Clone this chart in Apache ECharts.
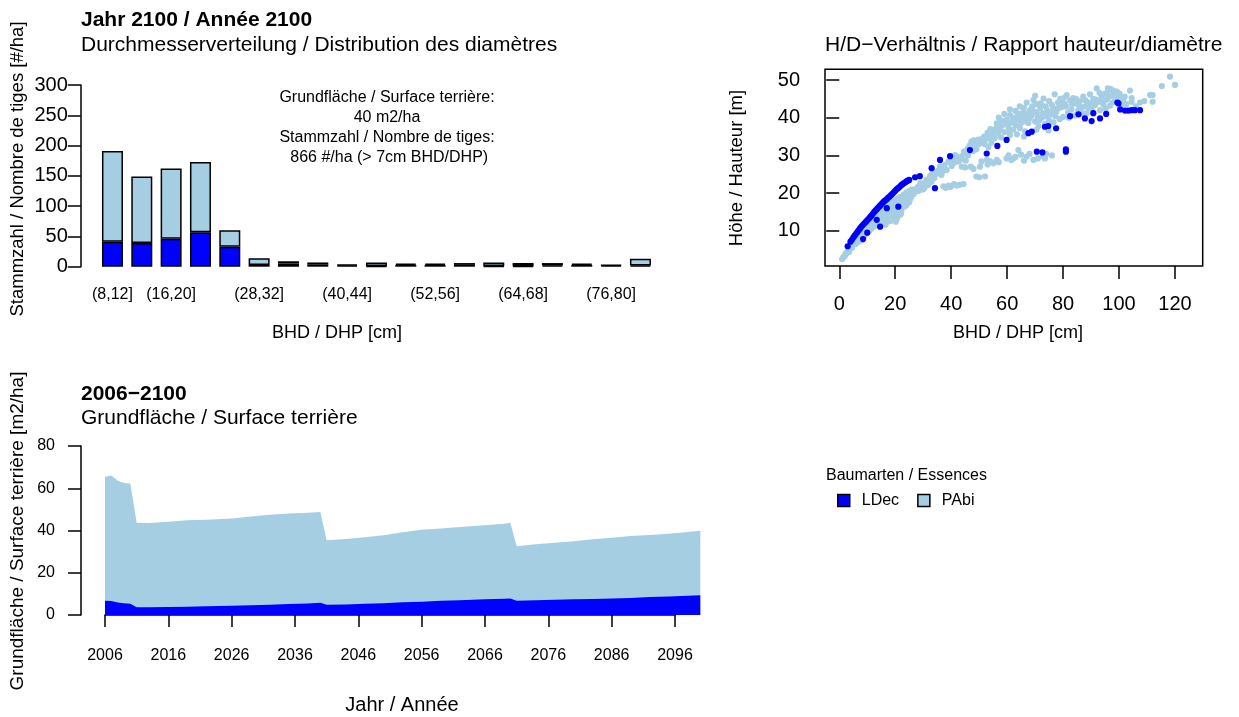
<!DOCTYPE html>
<html>
<head>
<meta charset="utf-8">
<script src="https://cdn.jsdelivr.net/npm/echarts@6/dist/echarts.min.js"></script>
<style>html,body{margin:0;padding:0;background:#fff}#c{width:1239px;height:717px}</style>
</head>
<body>
<div id="c"></div>
<script>
// ---------- data ----------
const dbhClasses = ['(8,12]','(12,16]','(16,20]','(20,24]','(24,28]','(28,32]','(32,36]','(36,40]','(40,44]','(44,48]','(48,52]','(52,56]','(56,60]','(60,64]','(64,68]','(68,72]','(72,76]','(76,80]','(80,84]'];
const ldecCounts = [41, 39, 46, 57, 33, 3, 5, 4, 2, 1, 3, 3, 3, 1, 1, 2, 3, 2, 2];
const pabiCounts = [150, 110, 116, 116, 27, 11, 4, 3, 2, 6, 2, 2, 3, 6, 5, 4, 2, 1, 11];
const shownClassIdx = [0, 2, 5, 8, 11, 14, 17];
const countTicks = [0, 50, 100, 150, 200, 250, 300];

const pabiHD = [
[1,2.5],[1.3,2.8],[1.6,3.1],[2,3.3],[2.2,3.8],[2.5,4],[2.8,4.2],[3,4.6],[3.3,4.8],[3.6,5.2],[4,5.4],[4.2,5.9],[4.5,6],[4.8,6.4],[5,6.8],[5.3,6.6],[5.6,7.2],[6,7.4],[6.2,6.9],[6.5,8],[6.8,7.6],[7,8.4],[7.2,7.2],[7.5,8.6],[7.8,8],[8,9.2],[8.2,7.6],[8.5,9.4],[8.8,8.6],[9,10],[9.2,9],[9.5,10.6],[9.8,9.6],[10,11.2],[10.2,10],[10.5,11.4],[10.8,10.4],[11,12],[11.2,10.8],[11.5,12.4],[11.8,11.2],[12,13],[12.2,11.6],[12.5,13.4],[12.8,12.2],[13,14],[13.2,12.6],[13.5,14.2],[13.8,13],[14,14.8],[14.2,13.4],[14.5,15],[14.8,12.2],[15,15.6],[15.2,14],[15.5,16],[15.8,13.2],[16,16.4],[16.2,14.6],[16.5,11.6],[16.8,15.4],[17,17],[17.2,13.8],[17.5,16.2],[17.8,14.8],[18,17.4],[18.2,12.6],[18.5,16.6],[18.8,15],[19,17.8],[19.2,13.4],[19.5,16.8],[19.8,14.4],[20,18.2],[20.2,12.4],[20.5,17],[20.8,15.6],[21,18.6],[21.2,14],[21.5,17.4],[21.8,16.2],[22,19],[22.2,15.2],[22.5,18],[22.8,17],[23,19.6],[23.3,16.4],[23.6,18.6],[24,20.2],[24.3,17.6],[24.6,19.2],[25,20.6],[25.3,18.4],[25.6,19.8],[26,21],
[3.5,4.4],[4.6,5.5],[5.8,6.5],[6.6,7],[7.6,7.6],[8.6,8.2],[9.6,9.2],[10.6,9.8],[11.6,10.6],[12.6,11.2],[13.6,12],[14.6,13],[15.6,14.2],[16.6,13.8],[17.6,12.8],[18.6,14.2],[19.6,15.8],[20.6,13.2],[21.6,15],[22.6,16.6],[23.6,17.2],[24.6,18],[25.6,18.8],[26.4,19.6],[15,11.8],[17,12.2],[19,12.8],[20,16],[22,14.4],[23,18],[24,16.8],[25,17.6],[26,20.4],
[27,20.2],[27.6,21],[28,21.6],[28.4,20.6],[28.8,22],[29,22.6],[29.5,21],[30,22.6],[30,21],[30.5,21.4],[31,22.8],[31.2,23.6],[31.8,22.2],[32,23.6],[32.5,24.6],[33,23],[33,25],[33.6,24.4],[34,24],[34.2,25.6],[34.8,25.2],[35,25.6],[35.5,26],[36,27],[36.5,24.8],[36.8,25.6],[37.2,21.8],[37.6,27.4],[37.8,26.4],[38,21.4],[38.4,26.1],[39,28.3],[39,22],[39.6,21.6],[40,21.8],[40.2,27.2],[40.8,29.2],[41,22.4],[41,28],[41.4,30.1],[42,22],[42,29.6],[42.6,28.4],[43,22.2],[43.2,28.8],[43.8,27],[43.8,29.8],[44.4,22.4],[44.6,31],[45,26.8],[45.2,28.6],[45.5,30.6],[46,31.8],[46,30],[46.6,32.6],[47,32],[47,27],[47.2,33.6],[47.8,31.2],[48,34],[48,26.4],[48.4,33],[49,32.8],[49,31.6],[49,24.4],[49.6,34.2],[50,24.2],[50,33],[50.3,27],[50.8,28.4],[51,34.4],[51.2,33.6],[51.8,35],[52,33],[52.1,24.4],[52.7,28.8],[52.7,34.5],[53,36],[53,27.6],[53.3,32.2],[53.8,35.6],[54,34.6],[54,28.4],[54.4,33.4],[55,36.4],[55,35],[55.1,27.9],[55.6,34.6],[56,37.2],[56.3,28.8],[56.3,38.5],[56.8,36],[57,28.2],
[57.4,37],[57.8,34.8],[58,37.8],[58.4,38.2],[59,36.2],[59.8,29.2],[59.8,39.4],[60.4,37.6],[60.8,36.4],[61,40.7],[61,35.4],[61.6,38.8],[62.2,29.2],[62.2,36.8],[62.6,38.4],[62.8,40],[63.4,38],[63.8,39.6],[64,31.4],[64,41],[64.6,37.2],[65.2,39.4],[65.4,40.4],[65.8,41.6],[66.4,36.4],[66.8,39],[67,29.7],[67,40.2],[67.6,38.6],[67.8,41.2],[68.2,42],[68.8,40.6],[69.2,41.8],[69.4,28.8],[69.4,44.7],[70,39],[70.4,43.6],[70.6,41.4],[71.2,37.8],[71.6,39.4],[71.8,42.6],[72.4,40],[72.8,41.2],[72.9,29.7],[73,45.1],[73.6,38.4],[73.8,43],[74.2,42],[74.8,36.6],[75,39.2],[75.4,40.8],[76,43.4],[76.2,41.8],[76.6,38.8],[77,46.2],[77.2,40.4],[77.6,41.6],[78.2,44],[78.4,42.6],[78.8,39.6],[79.4,42.8],[79.6,44],[80,40.2],
[58,39.2],[60,38.4],[62,39.6],[63,41.8],[65,38.6],[66,42.6],[68,39.8],[69,43],[71,40.2],[72,43.8],[74,40.4],[75,44.4],[77,42.4],[79,45],[63.5,35.6],[66,35],[70.5,36.8],[54,37],[57,40],[59,41],[61,42.2],[64.5,43],[67,44],[70,45.8],
[60.5,30],[61.5,28.8],[63,29.6],[65,30.2],[66,28.6],[68,30.4],[71,29.2],[73.5,29.2],[74,30.4],[76,30],
[80.2,45.2],[80.6,43.6],[81,43],[81.3,46],[81.8,41.4],[82,40],[82.4,44.6],[83,42.2],[83.2,43.6],[83.6,45.2],[84.2,40.6],[84.6,45],[84.8,43.8],[85.4,41.8],[85.8,43],[86,44.4],[86.6,42.6],[87,41],[87.2,45.6],[87.8,43],[88,44.6],[88.4,41.2],[89,44],[89.2,42.6],[89.6,46.2],[90.2,42.4],[90.4,43.8],[90.8,45],[91.4,43.4],[91.8,44.8],[92,47.8],[92.6,44.2],[93,46.6],[93.2,42],[93.8,45.6],[94,44.6],[94.4,43.6],[95,46.4],[95.2,42.4],[95.6,44.8],[96,47.8],[96.2,47.2],[96.4,45.6],[96.8,43.2],[97,47.6],[97.4,45.8],[97.6,44],[98,47.2],[98.5,46.5],[98.6,44.4],[98.8,45.8],[99.2,46.9],[100,45.5],[100.2,46.4],[100.6,43.2],[101,44],[101.5,44.8],[102,45.6],[102.5,43.6],[103.9,47.2],[104.5,44.2],[104.5,45.2],[106,43],[107.5,44],[109,44.4],[111.1,46],[112,46],[112,44.2],[115.3,48.4],[118.2,50.9],[120,48.7]
];
const ldecHD = [
[3,5.9],[4,7.1],[4.5,7.6],[5,8.2],[5.5,8.7],[6,9.2],[6.5,9.7],[7,10.2],[7.5,10.7],[8,11.2],[8.5,11.6],[9,12],[9.5,12.4],[10,12.8],[10.5,13.2],[11,13.6],[11.5,14],[12,14.5],[12.5,15],[13,15.4],[13.5,15.8],[14,16.2],[14.5,16.6],[15,17],[15.5,17.4],[16,17.8],[16.5,18.1],[17,18.4],[17.5,18.8],[18,19.1],[18.5,19.5],[19,19.8],[19.5,20.2],[20,20.6],[20.5,21],[21,21.3],[21.5,21.6],[22,22],[22.5,22.3],[23,22.6],[23.5,22.8],[24,23.1],[24.5,23.3],[25,23.5],
[8.5,7.8],[13.4,12.9],[14.6,11.1],[21.1,16.4],[10,9.5],[17,16],
[27.1,24.2],[28.8,24.5],[33,26.6],[34.2,21.3],[36,28.8],[39.6,29.8],[46.7,31.4],[52.7,30.5],[56.5,32.5],[59.8,34.1],[67.6,35.9],[68.8,36.3],[70.6,31],[72.6,30.8],[73.5,37.6],[74.7,37.8],[77.5,37.2],[81,31.6],[81,31],[82.5,40.4],[85.5,40.9],[87.8,39.8],[90.2,39.1],[90.8,41.2],[93.2,39.8],[95.4,41],[99.4,44],[99.8,43.8],[100.4,42.2],[102.1,41.9],[103.3,41.9],[104.5,42],[105.7,42],[107.5,42]
];
const dbhTicks = [0, 20, 40, 60, 80, 100, 120];
const heightTicks = [10, 20, 30, 40, 50];

const years   = [2006,2007,2008,2009,2010,2011,2013,2016,2019,2022,2026,2029,2032,2035,2038,2040,2041,2044,2047,2050,2053,2056,2059,2062,2066,2069,2070,2071,2074,2077,2080,2083,2086,2089,2092,2095,2098,2100];
const ldecBA  = [6.8,6.6,5.9,5.6,5.3,3.7,3.7,3.8,3.9,4.1,4.4,4.6,4.8,5.2,5.5,5.8,4.8,5.0,5.3,5.6,6.0,6.3,6.7,7.0,7.4,7.7,7.8,6.8,7.0,7.2,7.4,7.6,7.8,8.1,8.5,8.8,9.1,9.3];
const pabiBA  = [58.6,59.4,57.6,56.9,56.9,40.0,39.8,40.3,40.9,41.0,41.3,42.0,42.6,42.9,42.9,43.0,30.6,31.0,31.5,32.1,33.2,34.0,34.3,34.7,35.1,35.5,35.9,25.8,26.5,27.0,27.5,28.2,28.8,29.3,29.4,29.7,30.2,30.6];
const yearTicks = [2006,2016,2026,2036,2046,2056,2066,2076,2086,2096];
const baTicks = [0, 20, 40, 60, 80];

// ---------- chart ----------
const FONT = 'Liberation Sans, Arial, Helvetica, sans-serif';
const C_LDEC = '#0000FF', C_PABI = '#A6CEE3';
const chart = echarts.init(document.getElementById('c'), null, {renderer: 'canvas'});
const txt = (text, x, y, size, opts = {}) => ({
  type: 'text', x, y, rotation: opts.rot || 0, silent: true,
  style: { text, fontSize: size, fontFamily: FONT, fontWeight: opts.bold ? 'bold' : 'normal',
           fill: '#000', align: opts.align || 'left', verticalAlign: 'middle', lineHeight: opts.lh }
});
const lbl = (size, margin, extra = {}) => Object.assign({ color: '#000', fontSize: size, fontFamily: FONT, margin }, extra);
const axLine = { show: true, lineStyle: { color: '#000', width: 1.5 } };

// stacked top of the basal-area band (LDec + PAbi) for each year
const baTop = years.map((y, i) => [y, ldecBA[i] + pabiBA[i]]);
const baLDec = years.map((y, i) => [y, ldecBA[i]]);

chart.setOption({
  animation: false,
  backgroundColor: '#fff',
  grid: [
    { left: 97.8, top: 85, width: 557.3, height: 181.7 },
    { left: 825, top: 69.3, width: 377.7, height: 196.7, show: true, borderColor: '#000', borderWidth: 1.5, backgroundColor: 'transparent' },
    { left: 105, top: 446, width: 595.3, height: 169 },
    { left: 105, top: 446, width: 570, height: 169 }
  ],
  xAxis: [
    { gridIndex: 0, type: 'category', data: dbhClasses, axisLine: { show: false }, axisTick: { show: false },
      axisLabel: lbl(16, 20, { interval: (i) => shownClassIdx.includes(i) }) },
    { gridIndex: 1, type: 'value', min: -5.1, max: 129.9, axisLine: { show: false }, splitLine: { show: false },
      axisTick: { show: true, length: 13, customValues: dbhTicks, lineStyle: { color: '#000', width: 1.5 } },
      axisLabel: lbl(20, 28, { customValues: dbhTicks }) },
    { gridIndex: 2, type: 'value', min: 2006, max: 2100, show: false },
    { gridIndex: 3, type: 'value', min: 2006, max: 2096, interval: 10, axisLine: axLine, splitLine: { show: false },
      axisTick: { show: true, length: 12, lineStyle: { color: '#000', width: 1.5 } },
      axisLabel: lbl(16, 33, { customValues: yearTicks, formatter: (v) => String(v) }) }
  ],
  yAxis: [
    { gridIndex: 0, type: 'value', min: 0, max: 300, interval: 50, offset: 17, axisLine: axLine, splitLine: { show: false },
      axisTick: { show: true, length: 13, lineStyle: { color: '#000', width: 1.5 } },
      axisLabel: lbl(20, 13, { customValues: countTicks }) },
    { gridIndex: 1, type: 'value', min: 0.66, max: 52.84, axisLine: { show: false }, splitLine: { show: false },
      axisTick: { show: true, length: 13, customValues: heightTicks, lineStyle: { color: '#000', width: 1.5 } },
      axisLabel: lbl(20, 25, { customValues: heightTicks }) },
    { gridIndex: 2, type: 'value', min: 0, max: 80, interval: 20, offset: 24, axisLine: axLine, splitLine: { show: false },
      axisTick: { show: true, length: 13, lineStyle: { color: '#000', width: 1.5 } },
      axisLabel: lbl(16, 26, { customValues: baTicks }) },
    { gridIndex: 3, type: 'value', min: 0, max: 80, show: false }
  ],
  legend: {
    left: 837, top: 492.5, padding: 0, itemWidth: 12, itemHeight: 12, itemGap: 18, icon: 'rect',
    data: ['LDec', 'PAbi'],
    itemStyle: { borderColor: '#000', borderWidth: 1.5 },
    textStyle: { color: '#000', fontSize: 16, fontFamily: FONT, padding: [0, 0, 0, 7] },
    selectedMode: false
  },
  series: [
    { name: 'LDec', type: 'bar', xAxisIndex: 0, yAxisIndex: 0, stack: 'dbh', barWidth: 21, data: ldecCounts,
      itemStyle: { color: C_LDEC, borderColor: '#000', borderWidth: 1.5 } },
    { name: 'PAbi', type: 'bar', xAxisIndex: 0, yAxisIndex: 0, stack: 'dbh', barWidth: 21, data: pabiCounts,
      itemStyle: { color: C_PABI, borderColor: '#000', borderWidth: 1.5 } },
    { name: 'PAbi', type: 'scatter', xAxisIndex: 1, yAxisIndex: 1, symbolSize: 6.2, data: pabiHD,
      itemStyle: { color: C_PABI, opacity: 1 } },
    { name: 'LDec', type: 'scatter', xAxisIndex: 1, yAxisIndex: 1, symbolSize: 6.2, data: ldecHD,
      itemStyle: { color: C_LDEC, opacity: 1 } },
    { name: 'PAbi', type: 'line', xAxisIndex: 2, yAxisIndex: 2, symbol: 'none', data: baTop,
      lineStyle: { width: 0 }, areaStyle: { color: C_PABI, opacity: 1, origin: 'start' }, itemStyle: { color: C_PABI } },
    { name: 'LDec', type: 'line', xAxisIndex: 2, yAxisIndex: 2, symbol: 'none', data: baLDec,
      lineStyle: { width: 0 }, areaStyle: { color: C_LDEC, opacity: 1, origin: 'start' }, itemStyle: { color: C_LDEC } }
  ],
  graphic: [
    txt('Jahr 2100 / Année 2100', 81, 20, 21, { bold: true }),
    txt('Durchmesserverteilung / Distribution des diamètres', 81, 45, 21),
    txt('Grundfläche / Surface terrière:\n40 m2/ha\nStammzahl / Nombre de tiges:\n 866 #/ha (> 7cm BHD/DHP)', 387, 127.5, 16, { align: 'center', lh: 19.8 }),
    txt('BHD / DHP [cm]', 337, 333, 18, { align: 'center' }),
    txt('Stammzahl / Nombre de tiges [#/ha]', 18, 169, 18.5, { align: 'center', rot: Math.PI / 2 }),
    txt('H/D\u2212Verhältnis / Rapport hauteur/diamètre', 825, 45, 21),
    txt('BHD / DHP [cm]', 1018, 333, 18, { align: 'center' }),
    txt('Höhe / Hauteur [m]', 737, 168, 18.5, { align: 'center', rot: Math.PI / 2 }),
    txt('2006\u22122100', 81, 394, 21, { bold: true }),
    txt('Grundfläche / Surface terrière', 81, 418, 21),
    txt('Jahr / Année', 402, 705, 20, { align: 'center' }),
    txt('Grundfläche / Surface terrière [m2/ha]', 18, 531, 19, { align: 'center', rot: Math.PI / 2 }),
    txt('Baumarten / Essences', 826, 476, 16)
  ]
});
</script>
</body>
</html>
